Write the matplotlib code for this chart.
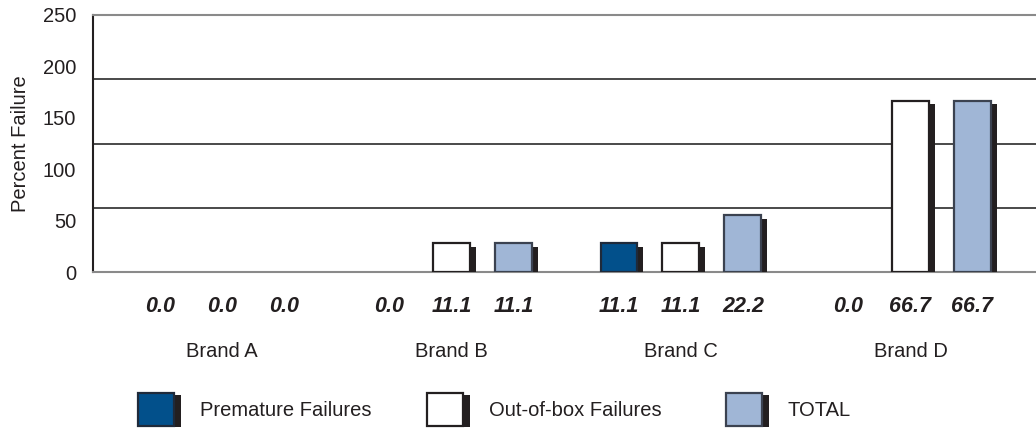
import numpy as np
import matplotlib
matplotlib.use("Agg")
from matplotlib import pyplot as plt
from matplotlib.patches import Rectangle

plt.rcParams['font.family'] = ['Liberation Sans', 'DejaVu Sans']

brands = ['Brand A', 'Brand B', 'Brand C', 'Brand D']
series = ['Premature Failures', 'Out-of-box Failures', 'TOTAL']
premature = [0.0, 0.0, 11.1, 0.0]
out_of_box = [0.0, 11.1, 11.1, 66.7]
total = [0.0, 11.1, 22.2, 66.7]
tick_labels = [0, 50, 100, 150, 200, 250]

colors = ['#02508b', '#ffffff', '#a0b6d6']
edges = ['#1f2a3a', '#231f20', '#3b4250']
shadow = '#231f20'

fig = plt.figure(figsize=(10.36, 4.32), dpi=100)
ax = fig.add_axes([93/1036, 1 - 272/432, 1 - 93/1036, (272 - 15)/432])

x = np.arange(len(brands))
offsets = [-0.27, 0.0, 0.27]
width = 0.161
shift = 6 / 229.5  # shadow offset, ~6 px

for i, vals in enumerate([premature, out_of_box, total]):
    vals = np.array(vals)
    mask = vals > 0
    # drop shadow behind each bar
    ax.bar(x[mask] + offsets[i] + shift, vals[mask] - 1.0, width, bottom=-0.4,
           color=shadow, zorder=3, linewidth=0)
    ax.bar(x[mask] + offsets[i], vals[mask], width, color=colors[i],
           edgecolor=edges[i], linewidth=1.6, zorder=4)
    for xi, v in zip(x, vals):
        ax.text(xi + offsets[i], -0.136, f'{v:.1f}', transform=ax.get_xaxis_transform(),
                ha='center', va='center', fontsize=15.5, fontweight='bold', style='italic',
                color='#231f20')

for xi, b in zip(x, brands):
    ax.text(xi, -0.31, b, transform=ax.get_xaxis_transform(), ha='center', va='center',
            fontsize=14.5, color='#231f20')

ax.set_xlim(-0.562, 3.547)
ax.set_ylim(0, 100)
ax.set_yticks([t * 100 / 250 for t in tick_labels])
ax.set_yticklabels([str(t) for t in tick_labels], fontsize=14.5, color='#231f20')
ax.tick_params(axis='y', length=0, pad=12)
ax.set_xticks([])
for g in [25, 50, 75]:
    ax.axhline(g, color='#3a3a3a', linewidth=1.3, zorder=1)
ax.spines['right'].set_visible(False)
ax.spines['top'].set_color('#8a8a8a')
ax.spines['top'].set_linewidth(1.5)
ax.spines['bottom'].set_color('#8a8a8a')
ax.spines['bottom'].set_linewidth(1.5)
ax.spines['left'].set_color('#231f20')
ax.spines['left'].set_linewidth(1.5)
ax.set_ylabel('Percent Failure', fontsize=14.5, color='#231f20')
ax.yaxis.set_label_coords(-0.067, 0.5)

# legend drawn by hand so the boxes can carry a shadow
W, H = 1036, 432
for px, c, e, lab in zip([138, 427, 726], colors, edges, series):
    fig.add_artist(Rectangle(((px + 6)/W, 1 - 427/H), 37/W, 32/H,
                             facecolor=shadow, linewidth=0, transform=fig.transFigure))
    fig.add_artist(Rectangle((px/W, 1 - 426/H), 36/W, 33/H, facecolor=c, edgecolor=e,
                             linewidth=1.6, transform=fig.transFigure))
    fig.text((px + 62)/W, 1 - 411/H, lab, ha='left', va='center', fontsize=14.5,
             color='#231f20')

fig.savefig('out.png', dpi=100)
